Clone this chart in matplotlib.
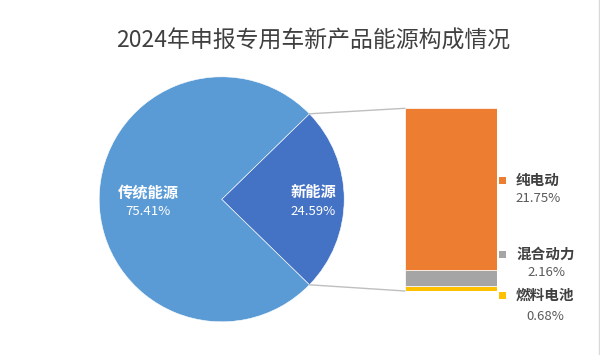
import numpy as np
import matplotlib
matplotlib.use("Agg")
import matplotlib.pyplot as plt
from matplotlib.patches import ConnectionPatch

plt.rcParams['font.family'] = ['Noto Sans CJK SC', 'DejaVu Sans']

title = "2024年申报专用车新产品能源构成情况"
pie_labels = ["新能源", "传统能源"]
pie_values = [24.59, 75.41]
pie_colors = ["#4472C4", "#5B9BD5"]

bar_labels = ["燃料电池", "混合动力", "纯电动"]
bar_values = [0.68, 2.16, 21.75]
bar_colors = ["#FFC000", "#A5A5A5", "#ED7D31"]

W, H = 600, 355
fig = plt.figure(figsize=(W / 100, H / 100), dpi=100)
fig.patch.set_facecolor("white")

def fx(x):
    return x / W

def fy(y):
    return 1 - y / H

# pie axes in pixel coordinates (y up)
ax = fig.add_axes([0, 0, 1, 1])
cx, cy, R = 221.7, H - 199.3, 122.5
start = -pie_values[0] / 100 * 360 / 2
wedges, _ = ax.pie(pie_values, colors=pie_colors, startangle=start,
                   counterclock=True, center=(cx, cy), radius=R,
                   wedgeprops=dict(edgecolor="white", linewidth=0.4),
                   frame=True)
ax.set_xlim(0, W)
ax.set_ylim(0, H)
ax.set_aspect("auto")
ax.axis("off")

label_r = [0.75, 0.60]
for w, name, val, lr in zip(wedges, pie_labels, pie_values, label_r):
    ang = np.deg2rad((w.theta1 + w.theta2) / 2)
    tx = cx + lr * R * np.cos(ang)
    ty = cy + lr * R * np.sin(ang) - 2
    ax.text(tx, ty + 9, name, color="white", fontsize=11, fontweight="bold",
            ha="center", va="center")
    ax.text(tx, ty - 10, f"{val:.2f}%", color="white", fontsize=9.5,
            ha="center", va="center")

# stacked bar axes
bl, bt, br, bb = 405, 108.3, 497.3, 291
bax = fig.add_axes([fx(bl), fy(bb), fx(br - bl), (bb - bt) / H])
bottom = 0
for v, c in zip(bar_values, bar_colors):
    bax.bar(0, v, width=1, bottom=bottom, color=c, edgecolor="white", linewidth=0.5)
    bottom += v
bax.set_xlim(-0.5, 0.5)
bax.set_ylim(0, sum(bar_values))
bax.axis("off")

# connector lines from wedge edges to bar corners
nw = wedges[0]
for theta, by in [(nw.theta2, sum(bar_values)), (nw.theta1, 0)]:
    a = np.deg2rad(theta)
    p = (cx + R * np.cos(a), cy + R * np.sin(a))
    con = ConnectionPatch(xyA=p, coordsA=ax.transData, xyB=(-0.5, by),
                          coordsB=bax.transData, color="#BFBFBF", linewidth=1.0)
    fig.add_artist(con)

# right-side labels with keys
label_pos = [(295, 316, 545), (254, 273, 546), (180, 198, 538)]
for name, val, c, (ny, py, pxc) in zip(bar_labels, bar_values, bar_colors, label_pos):
    fig.patches.append(plt.Rectangle((fx(499), fy(ny + 3.5)), 7 / W, 7 / H,
                                     transform=fig.transFigure, facecolor=c,
                                     edgecolor="none", figure=fig))
    fig.text(fx(516), fy(ny), name, color="#404040", fontsize=10.5,
             fontweight="bold", ha="left", va="center")
    fig.text(fx(pxc), fy(py), f"{val:.2f}%", color="#595959", fontsize=9.5,
             ha="center", va="center")

fig.text(fx(313), fy(41), title, color="#404040", fontsize=16.5,
         ha="center", va="center")

# right border
fig.add_artist(plt.Line2D([fx(598.5), fx(598.5)], [0, 1], color="#D9D9D9",
                          linewidth=1, transform=fig.transFigure))

fig.savefig("out.png", dpi=100, facecolor="white")
